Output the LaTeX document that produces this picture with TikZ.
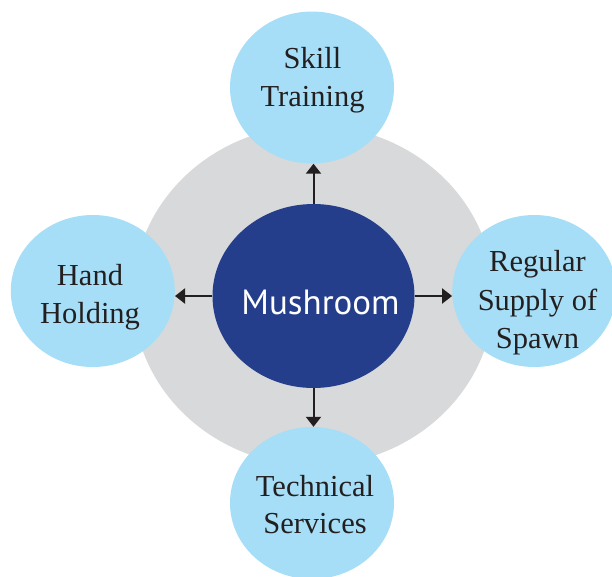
\documentclass[tikz,border=0pt]{standalone}
\usepackage{fontspec}
\setmainfont{Liberation Serif}
\newfontfamily\mushfont{PT Sans}
\usetikzlibrary{shapes.geometric,arrows.meta}
\definecolor{lightblue}{HTML}{A5DEF6}
\definecolor{darkblue}{HTML}{243E8C}
\definecolor{ringgray}{HTML}{D8D9DB}
\definecolor{inkdark}{HTML}{231F20}
\tikzset{
  blob/.style={ellipse, inner sep=0pt, draw=none},
  outer/.style={blob, fill=lightblue, minimum width=164pt, minimum height=152pt},
  lbl/.style={anchor=base, inner sep=0pt, text=inkdark, font=\fontsize{30.5pt}{38pt}\selectfont},
  arr/.style={draw=inkdark, line width=2pt, -{Triangle[width=15pt,length=10pt]}}
}
\begin{document}
\begin{tikzpicture}[x=1pt,y=-1pt]
\useasboundingbox (0,0) rectangle (612,576);
% gray ring
\node[blob, fill=ringgray, minimum width=361pt, minimum height=340pt] (ring) at (313.5,295.5) {};
% centre
\node[blob, fill=darkblue, minimum width=202pt, minimum height=184pt] (m) at (313.5,296) {};
\node[anchor=base, inner sep=0pt, text=white, font=\mushfont\fontsize{35pt}{40pt}\selectfont] (mt) at (320.5,314) {Mushroom};
% outer circles
\node[outer] (top) at (312,87.5) {};
\node[outer] (hand) at (92.8,291) {};
\node[outer] (reg) at (534.3,291) {};
\node[outer] (tech) at (312,503) {};
% labels
\node[lbl] (t1) at (312.5,68.3) {Skill};
\node[lbl] (t2) at (312.5,106.7) {Training};
\node[lbl] (h1) at (90,285) {Hand};
\node[lbl] (h2) at (90,323.3) {Holding};
\node[lbl] (r1) at (537.5,271.7) {Regular};
\node[lbl] (r2) at (537.5,310) {Supply of};
\node[lbl] (r3) at (537.5,348.3) {Spawn};
\node[lbl] (s1) at (315,496) {Technical};
\node[lbl] (s2) at (315,533.3) {Services};
% arrows
\draw[arr] (m.north) -- (m.north |- top.south);
\draw[arr] (m.south) -- (m.south |- tech.north);
\draw[arr] (m.west) -- (m.west -| hand.east);
\draw[arr] (m.east) -- (m.east -| reg.west);
\end{tikzpicture}
\end{document}
